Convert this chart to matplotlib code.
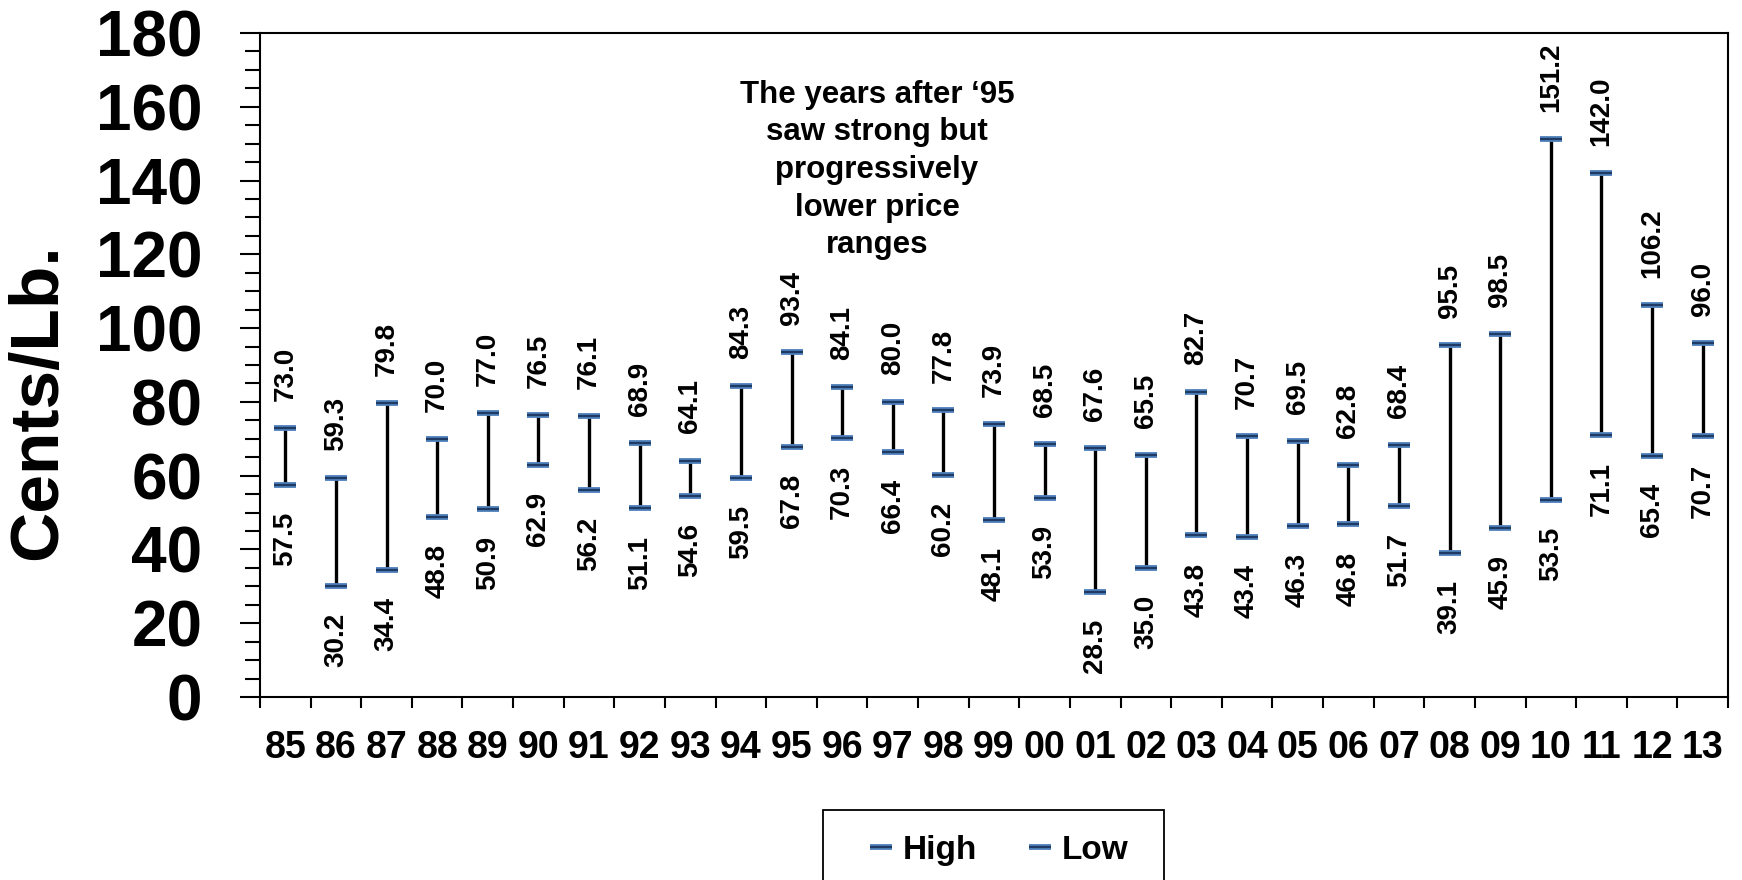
import matplotlib
matplotlib.use("Agg")
import matplotlib.pyplot as plt
from matplotlib.patches import Rectangle
import numpy as np

plt.rcParams['font.family'] = ['Liberation Sans', 'DejaVu Sans']

years = ["85", "86", "87", "88", "89", "90", "91", "92", "93", "94", "95", "96", "97", "98", "99",
         "00", "01", "02", "03", "04", "05", "06", "07", "08", "09", "10", "11", "12", "13"]
high = [73.0, 59.3, 79.8, 70.0, 77.0, 76.5, 76.1, 68.9, 64.1, 84.3, 93.4, 84.1, 80.0, 77.8, 73.9,
        68.5, 67.6, 65.5, 82.7, 70.7, 69.5, 62.8, 68.4, 95.5, 98.5, 151.2, 142.0, 106.2, 96.0]
low = [57.5, 30.2, 34.4, 48.8, 50.9, 62.9, 56.2, 51.1, 54.6, 59.5, 67.8, 70.3, 66.4, 60.2, 48.1,
       53.9, 28.5, 35.0, 43.8, 43.4, 46.3, 46.8, 51.7, 39.1, 45.9, 53.5, 71.1, 65.4, 70.7]

note = "The years after \u201895\nsaw strong but\nprogressively\nlower price\nranges"

cap_blue = "#4F81BD"
cap_dark = "#1F3B63"

fig = plt.figure(figsize=(17.42, 8.8), dpi=100)
ax = fig.add_axes([260 / 1742, 1 - 697 / 880, (1728 - 260) / 1742, (697 - 33) / 880])

x = np.arange(len(years))
ax.vlines(x, low, high, colors="black", linewidth=2.4, zorder=2)

# caps: light blue dash with a dark line through the middle
hb, = ax.plot(x, high, ls="none", marker="_", ms=16.5, mew=4.2, color=cap_blue, zorder=3)
hd, = ax.plot(x, high, ls="none", marker="_", ms=15.5, mew=1.6, color=cap_dark, zorder=4)
lb, = ax.plot(x, low, ls="none", marker="_", ms=16.5, mew=4.2, color=cap_blue, zorder=3)
ld, = ax.plot(x, low, ls="none", marker="_", ms=15.5, mew=1.6, color=cap_dark, zorder=4)

for xi, h, l in zip(x, high, low):
    ax.annotate(f"{h:.1f}", (xi, h), xytext=(0, 19.5), textcoords="offset points",
                rotation=90, ha="center", va="bottom", fontsize=20, fontweight="bold")
    ax.annotate(f"{l:.1f}", (xi, l), xytext=(0, -19.5), textcoords="offset points",
                rotation=90, ha="center", va="top", fontsize=20, fontweight="bold")

fig.text(877 / 1742, 1 - 170 / 880, note, ha="center", va="center",
         fontsize=22.5, fontweight="bold", linespacing=1.33)

ax.set_xlim(-0.5, len(years) - 0.5)
ax.set_ylim(0, 180)
ax.set_yticks(np.arange(0, 181, 20))
ax.set_yticks(np.arange(0, 181, 5), minor=True)
ax.tick_params(axis="y", which="major", direction="out", length=14.5, width=1.5,
               labelsize=46, pad=27)
ax.tick_params(axis="y", which="minor", direction="out", length=10.8, width=1.5)
for t in ax.get_yticklabels():
    t.set_fontweight("bold")

ax.set_xticks(np.arange(-0.5, len(years), 1.0))
ax.set_xticklabels([])
ax.set_xticks(x, minor=True)
ax.set_xticklabels(years, minor=True, fontsize=27, fontweight="bold")
ax.tick_params(axis="x", which="major", direction="out", length=8, width=1.5)
ax.tick_params(axis="x", which="minor", length=0, pad=24)

for s in ax.spines.values():
    s.set_linewidth(1.5)

fig.text(38 / 1742, 1 - 402 / 880, "Cents/Lb.", rotation=90, ha="center", va="center",
         fontsize=50, fontweight="bold")

fig.legend([(hb, hd), (lb, ld)], ["High", "Low"], ncol=2, frameon=False,
           loc="center", bbox_to_anchor=(998 / 1742, 1 - 850 / 880),
           prop={"size": 24, "weight": "bold"}, handlelength=0.8, handletextpad=0.25,
           columnspacing=1.5, numpoints=1)
fig.patches.append(Rectangle((823 / 1742, -0.05), (1164 - 823) / 1742, 0.05 + 70 / 880,
                             transform=fig.transFigure, fill=False, edgecolor="black",
                             linewidth=1.3))

fig.savefig("out.png", dpi=100)
